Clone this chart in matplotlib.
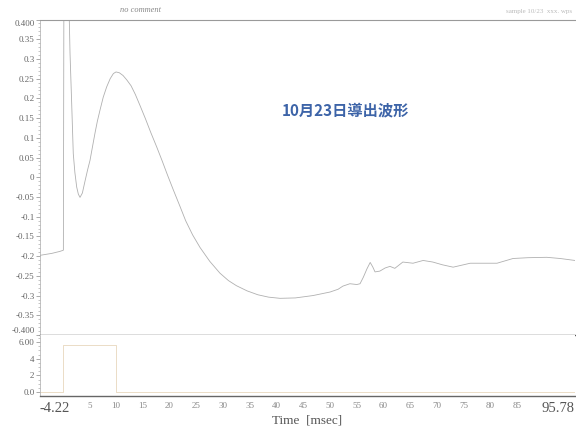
import matplotlib
matplotlib.use("Agg")
import matplotlib.pyplot as plt
from matplotlib.ticker import MultipleLocator

# waveform (time in msec, amplitude)
t_wave = [-4.22, -2.0, -0.5, 0.15, 0.25, 1.1, 1.39, 1.7, 2.0, 2.3, 2.64, 2.95, 3.26,
          3.7, 4.19, 4.7, 5.13, 5.6, 6.06, 6.5, 6.99, 7.6, 8.24, 8.9, 9.5, 9.99,
          10.6, 11.3, 11.99, 12.8, 13.6, 14.47, 15.5, 16.5, 17.59, 18.6, 19.6,
          20.64, 21.95, 23.0, 24.3, 25.69, 27.5, 29.4, 31.0, 32.5, 34.47, 36.5,
          38.5, 40.64, 43.5, 46.8, 50.0, 51.5, 52.4, 53.7, 55.0, 55.6, 56.2, 56.9,
          57.5, 58.0, 58.4, 59.3, 60.3, 61.2, 62.1, 63.6, 65.5, 67.4, 69.2, 71.0,
          73.0, 76.2, 81.2, 84.2, 87.0, 90.5, 93.0, 95.78]
v_wave = [-0.198, -0.193, -0.188, -0.185, 0.5, 0.5, 0.315, 0.188, 0.06, 0.012,
          -0.025, -0.043, -0.051, -0.04, -0.01, 0.02, 0.043, 0.078, 0.112, 0.142,
          0.17, 0.203, 0.229, 0.25, 0.263, 0.267, 0.265, 0.258, 0.247, 0.232,
          0.21, 0.182, 0.148, 0.113, 0.077, 0.042, 0.006, -0.03, -0.074, -0.11,
          -0.146, -0.178, -0.213, -0.243, -0.262, -0.275, -0.288, -0.298, -0.304,
          -0.307, -0.306, -0.3, -0.291, -0.284, -0.276, -0.27, -0.272, -0.27,
          -0.254, -0.232, -0.216, -0.228, -0.24, -0.238, -0.23, -0.226, -0.231,
          -0.215, -0.218, -0.211, -0.215, -0.222, -0.228, -0.218, -0.218, -0.206,
          -0.204, -0.203, -0.206, -0.211]

# stimulus trace in the lower panel
t_stim = [-4.22, 0.15, 0.15, 10.0, 10.0, 95.78]
v_stim = [0.0, 0.0, 5.6, 5.6, 0.0, 0.0]

yticks = [0.4, 0.35, 0.3, 0.25, 0.2, 0.15, 0.1, 0.05, 0, -0.05, -0.1, -0.15,
          -0.2, -0.25, -0.3, -0.35, -0.4]
ylabels = ["0.400", "0.35", "0.3", "0.25", "0.2", "0.15", "0.1", "0.05", "0",
           "-0.05", "-0.1", "-0.15", "-0.2", "-0.25", "-0.3", "-0.35", "-0.400"]
xticks = [-4.22, 5, 10, 15, 20, 25, 30, 35, 40, 45, 50, 55, 60, 65, 70, 75, 80, 85, 95.78]
xlabels = ["-4.22"] + [str(v) for v in xticks[1:-1]] + ["95.78"]
sticks = [6, 4, 2, 0]
slabels = ["6.00", "4", "2", "0.0"]

ink = "#666666"
serif = ["Liberation Serif", "DejaVu Serif"]

fig = plt.figure(figsize=(5.76, 4.26), dpi=100)
ax = fig.add_axes([40 / 576, 1 - 335 / 426, 535 / 576, 315.5 / 426])
ax2 = fig.add_axes([40 / 576, 1 - 396 / 426, 535 / 576, 61 / 426])

ax.plot(t_wave, v_wave, color="#b0b0b0", lw=0.6)
ax.set_xlim(-4.22, 95.78)
ax.set_ylim(-0.4, 0.4)
ax.set_yticks(yticks)
ax.set_yticklabels(ylabels, family=serif, fontsize=6.5, color=ink)
ax.yaxis.set_minor_locator(MultipleLocator(0.01))
ax.tick_params(axis="y", which="major", length=3, width=0.5, color="#888888", pad=1)
ax.tick_params(axis="y", which="minor", length=1.5, width=0.4, color="#999999")
ax.set_xticks([])
labs = ax.get_yticklabels()
labs[0].set_verticalalignment("top")
labs[-1].set_verticalalignment("bottom")
ax.spines["right"].set_visible(False)
ax.spines["top"].set_color("#9a9a9a")
ax.spines["left"].set_color("#aaaaaa")
ax.spines["left"].set_linewidth(0.5)
ax.spines["bottom"].set_color("#555555")
ax.spines["bottom"].set_linewidth(1.0)

ax.text(0.57, 0.713, "10月23日導出波形", transform=ax.transAxes, ha="center",
        va="center", fontsize=11, color="#3d64a8", fontweight="bold",
        family=["Noto Sans CJK JP", "DejaVu Sans"])

ax2.plot(t_stim, v_stim, color="#ebdcc6", lw=0.7)
ax2.set_xlim(-4.22, 95.78)
ax2.set_ylim(-0.48, 6.84)
ax2.set_yticks(sticks)
ax2.set_yticklabels(slabels, family=serif, fontsize=6.5, color=ink)
ax2.yaxis.set_minor_locator(MultipleLocator(0.5))
ax2.tick_params(axis="y", which="major", length=3, width=0.5, color="#888888", pad=1)
ax2.tick_params(axis="y", which="minor", length=1.5, width=0.4, color="#999999")
ax2.set_xticks(xticks)
ax2.set_xticklabels(xlabels, family=serif, fontsize=6.5, color="#888888")
ax2.tick_params(axis="x", length=0, pad=4)
xl = ax2.get_xticklabels()
xl[0].set_horizontalalignment("left")
xl[0].set_fontsize(10.5)
xl[0].set_color("#555555")
xl[-1].set_horizontalalignment("right")
xl[-1].set_fontsize(10.5)
xl[-1].set_color("#555555")
ax2.set_xlabel("Time  [msec]", family=serif, fontsize=9.5, color="#555555", labelpad=0)
ax2.spines["top"].set_visible(False)
ax2.spines["right"].set_visible(False)
ax2.spines["left"].set_color("#aaaaaa")
ax2.spines["left"].set_linewidth(0.5)
ax2.spines["bottom"].set_color("#666666")
ax2.spines["bottom"].set_linewidth(1.0)

fig.text(120 / 576, 1 - 10 / 426, "no comment", family=serif, style="italic",
         fontsize=6, color="#888888", va="center")
fig.text(572 / 576, 1 - 11 / 426, "sample 10/23  xxx. wps", family=serif,
         fontsize=5, color="#bbbbbb", va="center", ha="right")

fig.savefig("out.png", dpi=100)
